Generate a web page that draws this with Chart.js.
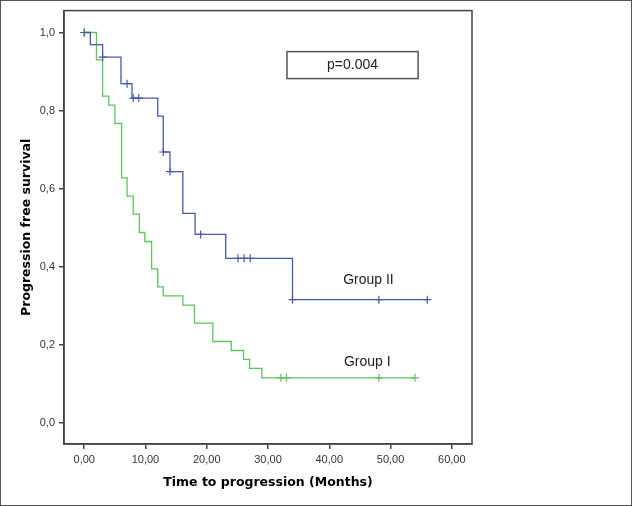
<!DOCTYPE html>
<html>
<head>
<meta charset="utf-8">
<script src="https://cdn.jsdelivr.net/npm/chart.js@4/dist/chart.umd.min.js"></script>
<style>
  html, body { margin: 0; padding: 0; background: #fff; }
  canvas { display: block; }
</style>
</head>
<body>
<canvas id="km" width="632" height="506"></canvas>
<script>
// ---- data ----
var xTicks = [0, 10, 20, 30, 40, 50, 60];
var yTicks = [0, 0.2, 0.4, 0.6, 0.8, 1.0];

// Group II (blue)
var g2Times = [0, 1.0, 3.0, 6.0, 7.8, 12.0, 12.9, 14.0, 16.1, 18.1, 23.1, 34.0, 56.0];
var g2Surv  = [1.0, 0.969, 0.937, 0.869, 0.832, 0.786, 0.694, 0.644, 0.537, 0.483, 0.422, 0.316, 0.316];
var g2CensT = [0, 3.0, 7.0, 8.0, 8.9, 12.9, 14.0, 19.0, 25.1, 26.1, 27.1, 34.0, 48.1, 56.0];
var g2CensS = [1.0, 0.937, 0.869, 0.832, 0.832, 0.694, 0.644, 0.483, 0.422, 0.422, 0.422, 0.316, 0.316, 0.316];

// Group I (green)
var g1Times = [0, 2.0, 3.0, 4.0, 5.0, 6.1, 7.0, 8.0, 9.0, 9.9, 11.0, 12.0, 12.9, 16.1, 18.0, 21.0, 24.0, 26.0, 27.0, 29.0, 54.0];
var g1Surv  = [1.0, 0.930, 0.837, 0.814, 0.767, 0.628, 0.581, 0.535, 0.488, 0.465, 0.395, 0.349, 0.326, 0.302, 0.256, 0.209, 0.186, 0.163, 0.140, 0.116, 0.116];
var g1CensT = [0, 32.1, 33.0, 48.1, 54.0];
var g1CensS = [1.0, 0.116, 0.116, 0.116, 0.116];

var blue = '#4659ad';
var green = '#5cc55c';

function pts(xs, ys) {
  return xs.map(function (x, i) { return { x: x, y: ys[i] }; });
}

Chart.defaults.font.family = "'Liberation Sans', Arial, sans-serif";
var titleFont = { family: "'DejaVu Sans', Verdana, sans-serif", size: 12.5, weight: 'bold' };

// frame, outer border and the text labels
var extras = {
  id: 'extras',
  afterDraw: function (chart) {
    var ctx = chart.ctx, a = chart.chartArea;
    var sx = chart.scales.x, sy = chart.scales.y;
    ctx.save();
    ctx.strokeStyle = '#555';
    ctx.lineWidth = 1;
    ctx.strokeRect(0.5, 0.5, chart.width - 1, chart.height - 1);

    ctx.strokeStyle = '#444';
    ctx.lineWidth = 1.5;
    ctx.strokeRect(a.left, a.top, a.right - a.left, a.bottom - a.top);

    // p-value box
    var bx1 = sx.getPixelForValue(33.1), bx2 = sx.getPixelForValue(54.5);
    var by1 = sy.getPixelForValue(0.951), by2 = sy.getPixelForValue(0.882);
    ctx.strokeStyle = '#555';
    ctx.lineWidth = 1.5;
    ctx.strokeRect(bx1, by1, bx2 - bx1, by2 - by1);

    ctx.fillStyle = '#222';
    ctx.font = "14px 'Liberation Sans', Arial, sans-serif";
    ctx.textAlign = 'center';
    ctx.textBaseline = 'middle';
    ctx.fillText('p=0.004', (bx1 + bx2) / 2, (by1 + by2) / 2);
    ctx.fillText('Group II', sx.getPixelForValue(46.4), sy.getPixelForValue(0.366));
    ctx.fillText('Group I', sx.getPixelForValue(46.2), sy.getPixelForValue(0.156));
    ctx.restore();
  }
};

var kmChart = new Chart(document.getElementById('km').getContext('2d'), {
  type: 'line',
  data: {
    datasets: [
      {
        label: 'Group II',
        data: pts(g2Times, g2Surv),
        borderColor: blue,
        borderWidth: 1.3,
        stepped: 'before',
        pointRadius: 0,
        fill: false,
        order: 1
      },
      {
        label: 'Group II censored',
        type: 'scatter',
        data: pts(g2CensT, g2CensS),
        borderColor: blue,
        borderWidth: 1.2,
        pointStyle: 'cross',
        pointRadius: 4,
        showLine: false,
        order: 0
      },
      {
        label: 'Group I',
        data: pts(g1Times, g1Surv),
        borderColor: green,
        borderWidth: 1.3,
        stepped: 'before',
        pointRadius: 0,
        fill: false,
        order: 3
      },
      {
        label: 'Group I censored',
        type: 'scatter',
        data: pts(g1CensT, g1CensS),
        borderColor: green,
        borderWidth: 1.2,
        pointStyle: 'cross',
        pointRadius: 4,
        showLine: false,
        order: 2
      }
    ]
  },
  options: {
    responsive: false,
    animation: false,
    layout: { padding: { top: 8, right: 160, bottom: 0, left: 0 } },
    plugins: { legend: { display: false }, tooltip: { enabled: false } },
    scales: {
      x: {
        type: 'linear',
        min: -3.3,
        max: 63.3,
        afterBuildTicks: function (s) { s.ticks = xTicks.map(function (v) { return { value: v }; }); },
        afterFit: function (s) { s.height = 62; },
        grid: { drawOnChartArea: false, drawTicks: true, tickLength: 5, color: '#444', lineWidth: 1.5 },
        border: { color: '#444', width: 1.5 },
        ticks: {
          padding: 4,
          color: '#333',
          font: { size: 11 },
          maxRotation: 0,
          callback: function (v) { return v.toFixed(2).replace('.', ','); }
        },
        title: {
          display: true,
          text: 'Time to progression (Months)',
          color: '#000',
          font: titleFont,
          padding: { top: 0, bottom: 16 }
        }
      },
      y: {
        type: 'linear',
        min: -0.0534,
        max: 1.056,
        afterBuildTicks: function (s) { s.ticks = yTicks.map(function (v) { return { value: v }; }); },
        afterFit: function (s) { s.width = 64; },
        grid: { drawOnChartArea: false, drawTicks: true, tickLength: 5, color: '#444', lineWidth: 1.5 },
        border: { color: '#444', width: 1.5 },
        ticks: {
          padding: 4,
          color: '#333',
          font: { size: 11 },
          callback: function (v) { return v.toFixed(1).replace('.', ','); }
        },
        title: {
          display: true,
          text: 'Progression free survival',
          color: '#000',
          font: titleFont,
          padding: { top: 19, bottom: 0 }
        }
      }
    }
  },
  plugins: [extras]
});
</script>
</body>
</html>
